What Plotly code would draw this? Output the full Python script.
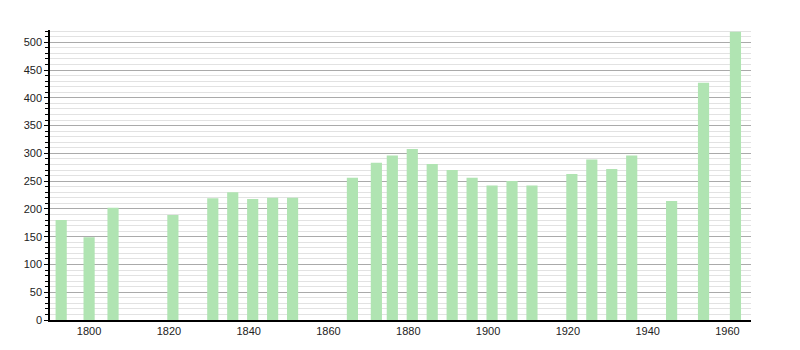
import plotly.graph_objects as go

years = [1793, 1800, 1806, 1821, 1831, 1836, 1841, 1846, 1851, 1866, 1872, 1876,
         1881, 1886, 1891, 1896, 1901, 1906, 1911, 1921, 1926, 1931, 1936, 1946,
         1954, 1962]
population = [180, 149, 202, 189, 219, 230, 218, 220, 220, 256, 283, 296,
              308, 281, 270, 256, 242, 250, 242, 263, 289, 272, 296, 214,
              427, 519]
x_ticks = [1800, 1820, 1840, 1860, 1880, 1900, 1920, 1940, 1960]
y_ticks = [0, 50, 100, 150, 200, 250, 300, 350, 400, 450, 500]

fig = go.Figure(go.Bar(
    x=years, y=population, width=2.8,
    marker=dict(color="rgb(176,228,178)", line=dict(width=0)),
))

fig.update_layout(
    width=800, height=350,
    margin=dict(l=50, r=49, t=30, b=30),
    paper_bgcolor="white", plot_bgcolor="white",
    showlegend=False,
    font=dict(family="Liberation Sans, Arial, sans-serif", size=11, color="#222"),
)
fig.update_xaxes(
    range=[1790.2, 1965.9], tickvals=x_ticks, showgrid=False,
    showline=True, linecolor="black", linewidth=1.5, ticks="", zeroline=False,
)
fig.update_yaxes(
    range=[0, 522], tickvals=y_ticks, showgrid=True, gridcolor="#aaaaaa", gridwidth=1,
    showline=True, linecolor="black", linewidth=1.5, ticks="outside", ticklen=4,
    tickcolor="black", zeroline=False,
    minor=dict(dtick=10, showgrid=True, gridcolor="#e2e2e2", ticks="outside",
               ticklen=3, tickcolor="black"),
)

fig.write_html("out.html")
